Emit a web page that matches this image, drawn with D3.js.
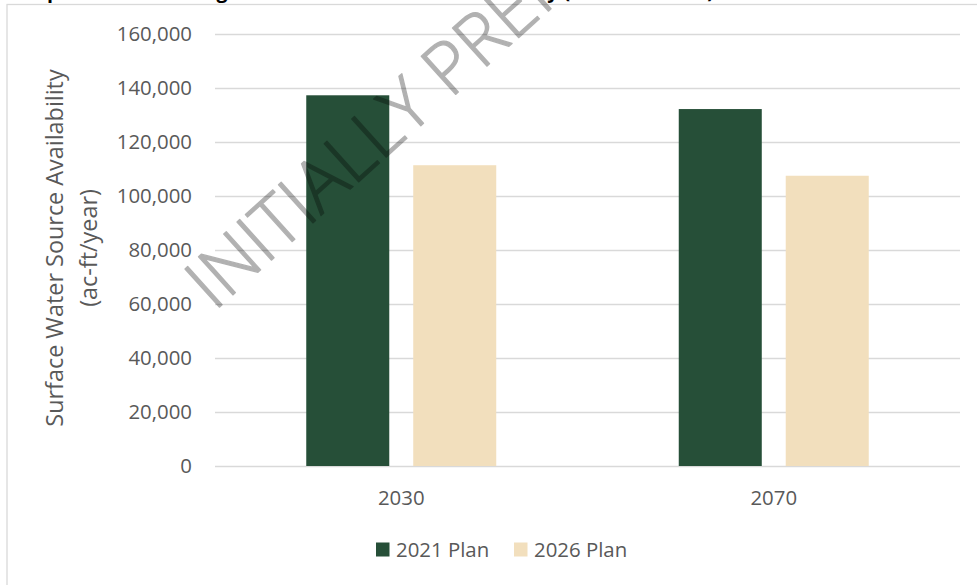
<!DOCTYPE html>
<html>
<head>
<meta charset="utf-8">
<script src="https://cdn.jsdelivr.net/npm/d3@7"></script>
<style>
  html, body { margin: 0; padding: 0; background: #ffffff; }
  svg { display: block; }
  text { font-family: "Open Sans", "Noto Sans", sans-serif; }
</style>
</head>
<body>
<svg id="chart" width="977" height="585"></svg>
<script>
// ---- data ----
const categories = ["2030", "2070"];
const seriesNames = ["2021 Plan", "2026 Plan"];
const plan2021 = [137300, 132200];
const plan2026 = [111400, 107500];
const yTicks = [0, 20000, 40000, 60000, 80000, 100000, 120000, 140000, 160000];
const seriesValues = [plan2021, plan2026];
const seriesColors = ["#264f38", "#f2dfbd"];

const titleText = "Comparison of Existing Surface Water Source Availability (2030 and 2070)";
const yTitleLines = ["Surface Water Source Availability", "(ac-ft/year)"];
const watermarkText = "INITIALLY PREPARED";

const W = 977, H = 585;
const plot = { left: 215, right: 960, top: 34, bottom: 466 };
const textGray = "#595959";
const gridGray = "#d9d9d9";

const svg = d3.select("#chart");

// chart area outline (the frame runs past the right and bottom edges)
svg.append("rect")
  .attr("x", 7).attr("y", 4.5)
  .attr("width", W + 20).attr("height", H + 20)
  .attr("fill", "#ffffff")
  .attr("stroke", gridGray).attr("stroke-width", 1.3);

// ---- title, sitting mostly above the top edge ----
const title = svg.append("text")
  .attr("x", 0).attr("y", -2.5)
  .attr("font-family", "'Liberation Sans', Arial, sans-serif")
  .attr("font-weight", "bold")
  .attr("font-size", 20)
  .attr("fill", "#000000")
  .text(titleText);
{
  const node = title.node();
  const gIdx = titleText.indexOf("Existing") + "Existing".length - 1;
  const total = node.getComputedTextLength();
  const gStart = node.getStartPositionOfChar(gIdx).x;
  const gEnd = node.getEndPositionOfChar(gIdx).x;
  const gMid = (gStart + gEnd) / 2;
  const s = (714 - 222) / (total - gMid);
  title.attr("x", 222 - gMid * s)
       .attr("textLength", total * s)
       .attr("lengthAdjust", "spacingAndGlyphs");
}

// ---- scales ----
const y = d3.scaleLinear().domain([0, 160000]).range([plot.bottom, plot.top]);
const x0 = d3.scaleBand().domain(categories).range([plot.left, plot.right]).padding(0);
const x1 = d3.scaleBand().domain(seriesNames).range([0, x0.bandwidth()])
  .paddingInner(0.224).paddingOuter(0.853);

// ---- y axis with gridlines ----
const yAxis = svg.append("g")
  .attr("transform", `translate(${plot.left},0)`)
  .call(d3.axisLeft(y).tickValues(yTicks).tickFormat(d3.format(","))
    .tickSize(-(plot.right - plot.left)).tickPadding(23));
yAxis.select(".domain").remove();
yAxis.selectAll(".tick line").attr("stroke", gridGray).attr("stroke-width", 1.4);
yAxis.selectAll(".tick text")
  .attr("fill", textGray)
  .attr("font-size", 20.4)
  .attr("font-family", "'Open Sans', sans-serif");

// ---- bars ----
const groups = svg.append("g").selectAll("g")
  .data(categories)
  .join("g")
  .attr("transform", d => `translate(${x0(d)},0)`);

groups.selectAll("rect")
  .data((d, i) => seriesNames.map((name, s) => ({ name, value: seriesValues[s][i], color: seriesColors[s] })))
  .join("rect")
  .attr("x", d => x1(d.name))
  .attr("width", x1.bandwidth())
  .attr("y", d => y(d.value))
  .attr("height", d => y(0) - y(d.value))
  .attr("fill", d => d.color);

// ---- x axis labels ----
const xAxis = svg.append("g")
  .attr("transform", `translate(0,${plot.bottom})`)
  .call(d3.axisBottom(x0).tickSize(0).tickPadding(24.5));
xAxis.select(".domain").remove();
xAxis.selectAll(".tick text")
  .attr("fill", textGray)
  .attr("font-size", 20.4)
  .attr("font-family", "'Open Sans', sans-serif");

// ---- y axis title ----
const yTitle = svg.append("text")
  .attr("transform", "translate(0,248) rotate(-90)")
  .attr("text-anchor", "middle")
  .attr("fill", textGray)
  .attr("font-size", 23.4);
yTitle.selectAll("tspan")
  .data(yTitleLines)
  .join("tspan")
  .attr("x", 0)
  .attr("y", (d, i) => 63 + i * 33.5)
  .text(d => d);

// ---- legend ----
const legendX = [376, 514];
const legend = svg.append("g").selectAll("g")
  .data(seriesNames)
  .join("g")
  .attr("transform", (d, i) => `translate(${legendX[i]},542.5)`);
legend.append("rect")
  .attr("width", 13.5).attr("height", 14)
  .attr("fill", (d, i) => seriesColors[i]);
legend.append("text")
  .attr("x", 20).attr("y", 14)
  .attr("fill", textGray)
  .attr("font-size", 20.4)
  .text(d => d);

// ---- watermark (translucent overlay; group opacity keeps stroke and fill even) ----
svg.append("g")
  .attr("opacity", 0.3)
  .append("text")
  .attr("transform", "translate(214,312) rotate(-42)")
  .attr("fill", "#000000")
  .attr("stroke", "#000000")
  .attr("stroke-width", 1.3)
  .attr("stroke-linejoin", "round")
  .attr("font-size", 72)
  .attr("font-weight", 300)
  .text(watermarkText);
</script>
</body>
</html>
